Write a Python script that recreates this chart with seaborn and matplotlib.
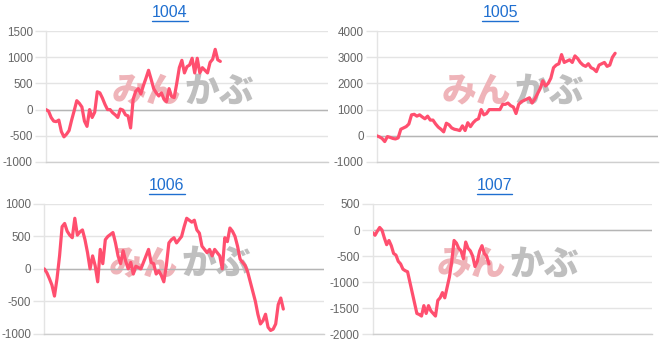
import numpy as np
import pandas as pd
import matplotlib
matplotlib.use("Agg")
import matplotlib.pyplot as plt
from matplotlib.lines import Line2D
import seaborn as sns

titles = ["1004", "1005", "1006", "1007"]

s1004 = [0, -30, -150, -220, -230, -200, -420, -520, -470, -400,
         -200, -20, 170, 120, 50, -220, -320, 0, -150, -50,
         340, 320, 220, 100, 0, 0, -60, -100, -150, 10,
         -10, -100, -120, -350, 200, 350, 400, 300, 460, 600,
         750, 580, 400, 320, 260, 320, 200, 150, 400, 250,
         230, 500, 800, 940, 700, 820, 850, 980, 700, 980,
         700, 800, 750, 700, 900, 960, 1150, 950, 920]

s1005 = [0, -40, -100, -220, -30, -60, -100, -120, -80, 250,
         300, 350, 450, 800, 820, 750, 800, 720, 650, 750,
         600, 600, 450, 330, 250, 150, 480, 420, 300, 250,
         230, 200, 380, 200, 500, 350, 500, 600, 650, 1000,
         800, 850, 1000, 1000, 1000, 1000, 1000, 1200, 1200, 1250,
         1150, 1100, 850, 1200, 1300, 1350, 1400, 1450, 1250, 1400,
         1600, 1800, 2100, 1900, 2000, 2200, 2600, 2700, 2750, 3100,
         2800, 2850, 2900, 2800, 3050, 2950, 2800, 2700, 2650, 2750,
         2600, 2550, 2450, 2700, 2750, 2800, 2650, 2700, 3000, 3150]

s1006 = [0, -60, -150, -250, -420, -150, 200, 650, 700, 580,
         520, 480, 780, 520, 570, 600, 450, 250, 0, 200,
         50, -200, 300, 80, 450, 500, 530, 560, 400, 200,
         80, 280, 120, 0, 100, -80, 40, 20, 0, 100,
         200, 300, 100, 80, -80, -30, -100, -200, 50, 400,
         450, 480, 400, 450, 500, 650, 780, 750, 720, 750,
         600, 550, 350, 300, 250, 300, 200, 300, 250, 200,
         0, 480, 420, 630, 580, 500, 350, 150, 100, 50,
         -50, -200, -350, -500, -700, -850, -800, -700, -900, -950,
         -930, -850, -550, -450, -620]

s1007 = [-50, -100, -20, 50, 0, -150, -280, -200, -300, -450,
         -480, -600, -650, -750, -780, -800, -1000, -1200, -1400, -1600,
         -1620, -1650, -1450, -1600, -1450, -1550, -1600, -1650, -1350, -1300,
         -1200, -1300, -1100, -900, -600, -200, -250, -350, -400, -550,
         -230, -350, -400, -500, -700, -600, -400, -300, -450, -500,
         -650]

series = [s1004, s1005, s1006, s1007]
yticks = [
    [-1000, -500, 0, 500, 1000, 1500],
    [-1000, 0, 1000, 2000, 3000, 4000],
    [-1000, -500, 0, 500, 1000],
    [-2000, -1500, -1000, -500, 0, 500],
]
spans = [111, 106, 111, 121]

W, H = 665, 348
fig = plt.figure(figsize=(W / 100, H / 100), dpi=100)
sns.set_theme(style="white")
plt.rcParams['font.family'] = ['Liberation Sans', 'DejaVu Sans']

# axes boxes in pixels: left, top, right, bottom
boxes = [(46, 31, 328, 162), (376.7, 31, 658, 162),
         (44.3, 204, 324, 333.7), (372.7, 204, 651.7, 334.3)]
title_pos = [(170, 12.5), (500, 12.5), (167, 185.7), (494.7, 185.7)]

line_color = "#ff4f6f"
grid_c = "#e4e4e4"

title_texts = []
for i in range(4):
    l, t, r, b = boxes[i]
    ax = fig.add_axes([l / W, 1 - b / H, (r - l) / W, (b - t) / H])
    df = pd.DataFrame({"x": np.arange(len(series[i])), "y": series[i]})
    sns.lineplot(data=df, x="x", y="y", ax=ax, color=line_color,
                 linewidth=2.3, zorder=5)
    ax.set_xlim(0, spans[i] - 1)
    ax.set_ylim(yticks[i][0], yticks[i][-1])
    ax.set_yticks(yticks[i])
    ax.set_yticklabels([str(v) for v in yticks[i]])
    ax.set_xticks([])
    ax.set_xlabel("")
    ax.set_ylabel("")
    ax.yaxis.grid(True, color=grid_c, linewidth=1)
    ax.set_axisbelow(True)
    ax.axhline(0, color="#b5b5b5", linewidth=1, zorder=2)
    for sp in ["top", "right"]:
        ax.spines[sp].set_visible(False)
    ax.spines["left"].set_color(grid_c)
    ax.spines["left"].set_linewidth(1)
    ax.spines["bottom"].set_color("#cfcfcf")
    ax.spines["bottom"].set_linewidth(1)
    ax.tick_params(axis="y", length=8, width=1, color=grid_c,
                   labelcolor="#666666", labelsize=8.4, pad=1.5, left=True)
    # watermark
    ax.text(0.478, 0.54, "みん", transform=ax.transAxes, ha="right", va="center",
            fontsize=25, fontweight="black", color="#efb4b9",
            family=["Noto Sans CJK JP"], zorder=1)
    ax.text(0.49, 0.54, "かぶ", transform=ax.transAxes, ha="left", va="center",
            fontsize=25, fontweight="black", color="#bfbfbf",
            family=["Noto Sans CJK JP"], zorder=1)
    tx, ty = title_pos[i]
    tt = fig.text(tx / W, 1 - ty / H, titles[i], ha="center", va="center",
                  fontsize=11.5, color="#1f6fd0")
    title_texts.append(tt)

fig.canvas.draw()
renderer = fig.canvas.get_renderer()
for tt in title_texts:
    bb = tt.get_window_extent(renderer)
    yline = bb.y0 - 1
    fig.add_artist(Line2D([bb.x0 / W, bb.x1 / W], [yline / H, yline / H],
                          transform=fig.transFigure, color="#1f6fd0", linewidth=1))

fig.savefig("out.png", dpi=100)
